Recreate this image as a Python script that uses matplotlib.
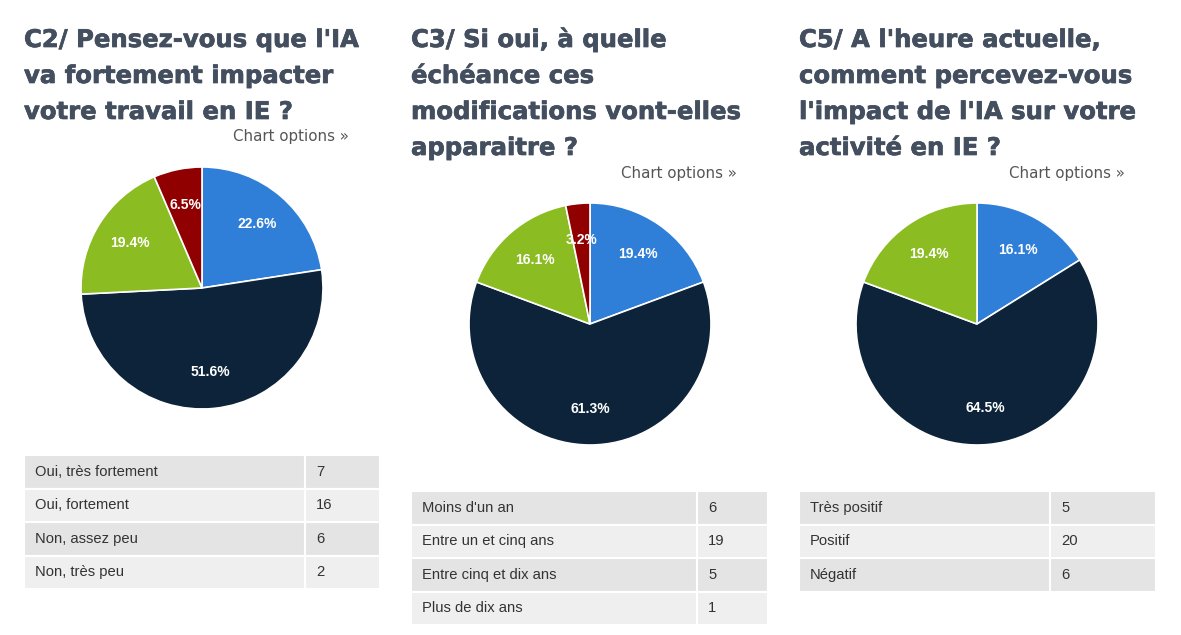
import matplotlib
matplotlib.use("Agg")
import matplotlib.pyplot as plt
import matplotlib.patheffects as pe
from matplotlib.patches import Rectangle

W, H = 1181, 635

# données des trois questions
titles = [
    ["C2/ Pensez-vous que l'IA", "va fortement impacter", "votre travail en IE ?"],
    ["C3/ Si oui, à quelle", "échéance ces", "modifications vont-elles", "apparaitre ?"],
    ["C5/ A l'heure actuelle,", "comment percevez-vous", "l'impact de l'IA sur votre", "activité en IE ?"],
]
c2_labels = ["Oui, très fortement", "Oui, fortement", "Non, assez peu", "Non, très peu"]
c2_counts = [7, 16, 6, 2]
c3_labels = ["Moins d'un an", "Entre un et cinq ans", "Entre cinq et dix ans", "Plus de dix ans"]
c3_counts = [6, 19, 5, 1]
c5_labels = ["Très positif", "Positif", "Négatif"]
c5_counts = [5, 20, 6]

colors = ["#2f7ed8", "#0d233a", "#8bbc21", "#910000"]
title_color = "#434e5f"

# mise en page (pixels)
panels = [
    dict(x=24, labels=c2_labels, counts=c2_counts, opt_right=349, opt_y=141,
         pie=(202, 288), table_top=455, table_w=356, split=281),
    dict(x=411, labels=c3_labels, counts=c3_counts, opt_right=737, opt_y=178,
         pie=(590, 324), table_top=491, table_w=357, split=286),
    dict(x=799, labels=c5_labels, counts=c5_counts, opt_right=1125, opt_y=178,
         pie=(977, 324), table_top=491, table_w=357, split=251),
]
R = 121
ROW_H = 33.5

fig = plt.figure(figsize=(W / 100, H / 100), dpi=100)
bg = fig.add_axes([0, 0, 1, 1])
bg.set_xlim(0, W)
bg.set_ylim(H, 0)
bg.axis("off")

heavy = [pe.withStroke(linewidth=0.5, foreground=title_color)]

for p, title in zip(panels, titles):
    for i, line in enumerate(title):
        bg.text(p["x"], 47 + 36 * i, line, fontsize=17.5, fontweight="bold",
                color=title_color, family="DejaVu Sans", va="baseline", ha="left",
                path_effects=heavy)
    bg.text(p["opt_right"], p["opt_y"], "Chart options »", fontsize=10.8,
            color="#555555", family="DejaVu Sans", va="baseline", ha="right")

    # tableau
    for i, (lab, val) in enumerate(zip(p["labels"], p["counts"])):
        y0 = p["table_top"] + ROW_H * i
        fc = "#e4e4e4" if i % 2 == 0 else "#efefef"
        bg.add_patch(Rectangle((p["x"], y0), p["table_w"], ROW_H, facecolor=fc,
                               edgecolor="white", linewidth=1.5))
        bg.plot([p["x"] + p["split"]] * 2, [y0, y0 + ROW_H], color="white", lw=1.5)
        bg.text(p["x"] + 11, y0 + ROW_H / 2, lab, fontsize=10.6, color="#333333",
                family="Liberation Sans", va="center", ha="left")
        bg.text(p["x"] + p["split"] + 11, y0 + ROW_H / 2, str(val), fontsize=10.6,
                color="#333333", family="Liberation Sans", va="center", ha="left")

    # camembert
    cx, cy = p["pie"]
    ax = fig.add_axes([(cx - R) / W, (H - cy - R) / H, 2 * R / W, 2 * R / H])
    ax.pie(p["counts"], colors=colors[:len(p["counts"])], startangle=90,
           counterclock=False, radius=1,
           wedgeprops=dict(edgecolor="white", linewidth=1.2),
           autopct="%.1f%%", pctdistance=0.7,
           textprops=dict(color="white", fontsize=10, fontweight="bold",
                          family="Liberation Sans"))
    ax.set_xlim(-1, 1)
    ax.set_ylim(-1, 1)
    ax.set_aspect("equal")
    ax.axis("off")

fig.savefig("out.png", dpi=100, facecolor="white")
